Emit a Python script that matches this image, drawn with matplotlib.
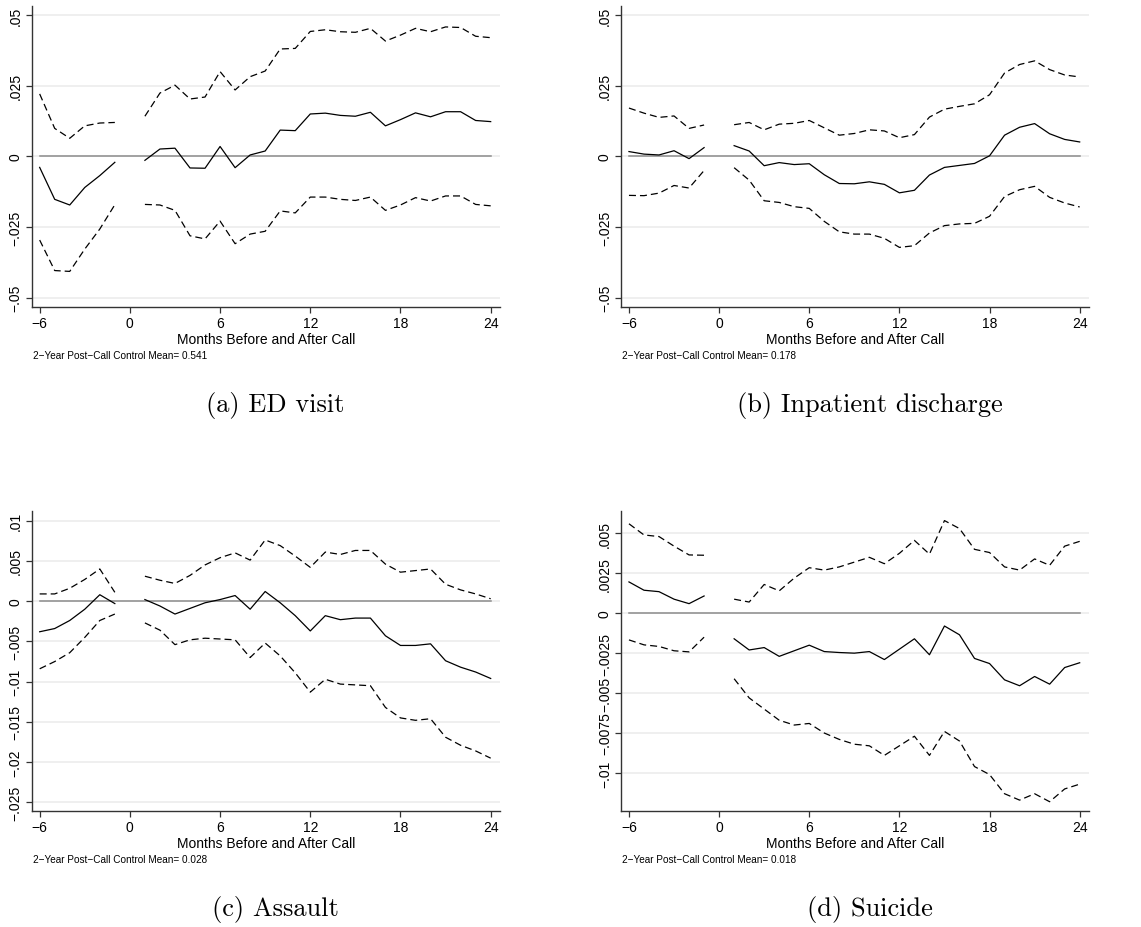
import numpy as np
import matplotlib.pyplot as plt

nan = np.nan

# months relative to the call, month 0 left empty
months = list(range(-6, 25))

ed_est = [-0.0039, -0.0152, -0.0172, -0.0110, -0.0068, -0.0021, nan,
          -0.0014, 0.0026, 0.0029, -0.0041, -0.0042, 0.0035, -0.0040, 0.0005,
          0.0019, 0.0093, 0.0091, 0.0150, 0.0153, 0.0145, 0.0142, 0.0156,
          0.0108, 0.0130, 0.0154, 0.0140, 0.0158, 0.0158, 0.0127, 0.0123]
ed_hi = [0.0221, 0.0099, 0.0064, 0.0108, 0.0118, 0.0120, nan,
         0.0142, 0.0224, 0.0252, 0.0203, 0.0210, 0.0300, 0.0235, 0.0282,
         0.0302, 0.0380, 0.0382, 0.0442, 0.0448, 0.0441, 0.0439, 0.0453,
         0.0408, 0.0429, 0.0453, 0.0441, 0.0458, 0.0456, 0.0425, 0.0420]
ed_lo = [-0.0296, -0.0404, -0.0407, -0.0328, -0.0257, -0.0171, nan,
         -0.0170, -0.0172, -0.0191, -0.0281, -0.0292, -0.0229, -0.0309, -0.0275,
         -0.0265, -0.0193, -0.0200, -0.0144, -0.0144, -0.0152, -0.0156, -0.0144,
         -0.0191, -0.0172, -0.0146, -0.0158, -0.0140, -0.0140, -0.0170, -0.0175]

inp_est = [0.0017, 0.0008, 0.0005, 0.0020, -0.0008, 0.0031, nan,
           0.0038, 0.0019, -0.0033, -0.0022, -0.0029, -0.0026, -0.0065, -0.0096,
           -0.0097, -0.0090, -0.0099, -0.0129, -0.0120, -0.0066, -0.0039, -0.0032,
           -0.0025, 0.0002, 0.0075, 0.0103, 0.0116, 0.0080, 0.0060, 0.0051]
inp_hi = [0.0171, 0.0153, 0.0138, 0.0143, 0.0099, 0.0111, nan,
          0.0112, 0.0120, 0.0094, 0.0114, 0.0117, 0.0127, 0.0101, 0.0075,
          0.0081, 0.0094, 0.0090, 0.0066, 0.0077, 0.0139, 0.0167, 0.0177,
          0.0186, 0.0218, 0.0295, 0.0325, 0.0338, 0.0307, 0.0288, 0.0281]
inp_lo = [-0.0138, -0.0139, -0.0130, -0.0103, -0.0112, -0.0050, nan,
          -0.0040, -0.0084, -0.0157, -0.0163, -0.0178, -0.0184, -0.0230, -0.0267,
          -0.0275, -0.0275, -0.0290, -0.0322, -0.0316, -0.0271, -0.0245, -0.0239,
          -0.0237, -0.0212, -0.0142, -0.0118, -0.0106, -0.0145, -0.0165, -0.0179]

asl_est = [-0.0038, -0.0034, -0.0024, -0.0010, 0.0008, -0.0003, nan,
           0.0002, -0.0006, -0.0016, -0.0009, -0.0002, 0.0002, 0.0007, -0.0010,
           0.0012, -0.0002, -0.0018, -0.0037, -0.0018, -0.0023, -0.0021, -0.0021,
           -0.0043, -0.0055, -0.0055, -0.0053, -0.0074, -0.0082, -0.0088, -0.0096]
asl_hi = [0.0009, 0.0009, 0.0016, 0.0027, 0.0040, 0.0011, nan,
          0.0031, 0.0026, 0.0022, 0.0032, 0.0045, 0.0054, 0.0060, 0.0051,
          0.0076, 0.0069, 0.0056, 0.0042, 0.0061, 0.0058, 0.0063, 0.0063,
          0.0046, 0.0036, 0.0038, 0.0040, 0.0021, 0.0014, 0.0009, 0.0003]
asl_lo = [-0.0084, -0.0075, -0.0064, -0.0045, -0.0024, -0.0016, nan,
          -0.0027, -0.0036, -0.0054, -0.0048, -0.0046, -0.0047, -0.0048, -0.0070,
          -0.0052, -0.0068, -0.0089, -0.0113, -0.0097, -0.0103, -0.0104, -0.0105,
          -0.0132, -0.0145, -0.0148, -0.0146, -0.0169, -0.0179, -0.0186, -0.0195]

sui_est = [0.00196, 0.00144, 0.00135, 0.00088, 0.00060, 0.00108, nan,
           -0.0016, -0.0023, -0.00215, -0.0027, -0.00235, -0.0020, -0.0024, -0.00246,
           -0.0025, -0.0024, -0.0029, -0.00225, -0.0016, -0.0026, -0.0008, -0.00135,
           -0.00283, -0.00315, -0.00417, -0.00454, -0.00396, -0.00444, -0.0034, -0.0031]
sui_hi = [0.0056, 0.0049, 0.0048, 0.0042, 0.00365, 0.00363, nan,
          0.00088, 0.0007, 0.0018, 0.0014, 0.0022, 0.00285, 0.0027, 0.0029,
          0.0032, 0.0035, 0.0031, 0.00375, 0.00456, 0.0037, 0.0058, 0.0053,
          0.0040, 0.0038, 0.0029, 0.0027, 0.0034, 0.0030, 0.0042, 0.0045]
sui_lo = [-0.00167, -0.00198, -0.00208, -0.00235, -0.00242, -0.0015, nan,
          -0.0041, -0.0053, -0.0060, -0.0067, -0.0070, -0.0069, -0.0075, -0.0079,
          -0.0082, -0.0083, -0.0089, -0.0083, -0.0077, -0.0089, -0.0074, -0.0080,
          -0.0096, -0.0101, -0.0113, -0.0117, -0.0113, -0.0118, -0.0110, -0.0107]

xticks = [-6, 0, 6, 12, 18, 24]

ed_yticks = [0.05, 0.025, 0, -0.025, -0.05]
ed_ylabels = [".05", ".025", "0", "\u2212.025", "\u2212.05"]
asl_yticks = [0.01, 0.005, 0, -0.005, -0.01, -0.015, -0.02, -0.025]
asl_ylabels = [".01", ".005", "0", "\u2212.005", "\u2212.01", "\u2212.015", "\u2212.02", "\u2212.025"]
sui_yticks = [0.005, 0.0025, 0, -0.0025, -0.005, -0.0075, -0.01]
sui_ylabels = [".005", ".0025", "0", "\u2212.0025", "\u2212.005", "\u2212.0075", "\u2212.01"]

captions = ["(a) ED visit", "(b) Inpatient discharge", "(c) Assault", "(d) Suicide"]
control_means = ["0.541", "0.178", "0.028", "0.018"]

plt.rcParams['font.family'] = ['Liberation Sans', 'DejaVu Sans']

fig = plt.figure(figsize=(11.41, 9.28), dpi=100)
W, H = 1141.0, 928.0


def draw_panel(left, top, right, bottom, est, lo, hi, yticks, ylabels, ylim,
               caption, mean, cap_x):
    ax = fig.add_axes([left / W, 1 - bottom / H, (right - left) / W, (bottom - top) / H])
    for y in yticks:
        ax.axhline(y, color='#ebebeb', lw=1.1, zorder=0)
    ax.plot([months[0], months[-1]], [0, 0], color='#8c8c8c', lw=1.1, zorder=1)
    ax.plot(months, est, color='black', lw=0.9, zorder=3)
    ax.plot(months, hi, color='black', lw=0.9, dashes=(5.6, 3.2), zorder=3)
    ax.plot(months, lo, color='black', lw=0.9, dashes=(5.6, 3.2), zorder=3)
    ax.set_xlim(-6.53, 24.62)
    ax.set_ylim(*ylim)
    ax.set_xticks(xticks)
    ax.set_xticklabels([str(t).replace('-', '\u2212') for t in xticks])
    ax.set_yticks(yticks)
    ax.set_yticklabels(ylabels, rotation=90, va='center')
    ax.tick_params(axis='both', length=4, width=0.9, color='#333333',
                   labelsize=10, pad=2.5)
    for s in ['top', 'right']:
        ax.spines[s].set_visible(False)
    for s in ['left', 'bottom']:
        ax.spines[s].set_color('#333333')
        ax.spines[s].set_linewidth(1.0)
    ax.set_xlabel("Months Before and After Call", fontsize=10, labelpad=1)
    fig.text((left + 1) / W, 1 - (bottom + 48) / H,
             "2\u2212Year Post\u2212Call Control Mean= " + mean,
             fontsize=7.2, va='center', ha='left')
    fig.text(cap_x / W, 1 - (bottom + 97) / H, caption, fontsize=19,
             family='cmr10', ha='center', va='center')
    return ax


draw_panel(31.7, 7.3, 500, 308.3, ed_est, ed_lo, ed_hi, ed_yticks, ed_ylabels,
           (-0.0534, 0.0531), captions[0], control_means[0], 275)
draw_panel(621, 7.3, 1089, 308.3, inp_est, inp_lo, inp_hi, ed_yticks, ed_ylabels,
           (-0.0534, 0.0531), captions[1], control_means[1], 870)
draw_panel(31.7, 512, 500, 812.3, asl_est, asl_lo, asl_hi, asl_yticks, asl_ylabels,
           (-0.0261, 0.0112), captions[2], control_means[2], 275)
draw_panel(621, 512, 1089, 812.3, sui_est, sui_lo, sui_hi, sui_yticks, sui_ylabels,
           (-0.0124, 0.0064), captions[3], control_means[3], 870)

fig.savefig("out.png", dpi=100, facecolor='white')
